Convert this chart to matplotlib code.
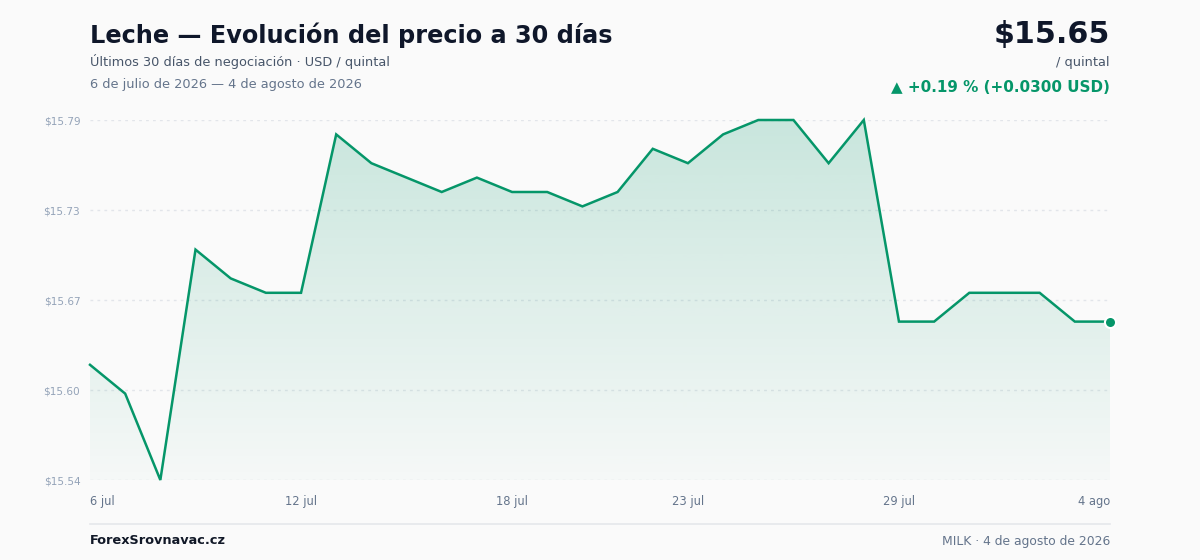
import numpy as np
import matplotlib
matplotlib.use("Agg")
import matplotlib.pyplot as plt
from matplotlib.colors import to_rgb

# === DATOS ===
dias = list(range(30))  # 6 jul .. 4 ago
precios = [15.62, 15.60, 15.54, 15.70, 15.68, 15.67, 15.67, 15.78, 15.76, 15.75,
           15.74, 15.75, 15.74, 15.74, 15.73, 15.74, 15.77, 15.76, 15.78, 15.79,
           15.79, 15.76, 15.79, 15.65, 15.65, 15.67, 15.67, 15.67, 15.65, 15.65]
xtick_pos = [0, 6, 12, 17, 23, 29]
xtick_lab = ["6 jul", "12 jul", "18 jul", "23 jul", "29 jul", "4 ago"]
ytick_val = [15.54, 15.6025, 15.665, 15.7275, 15.79]
ytick_lab = ["$15.54", "$15.60", "$15.67", "$15.73", "$15.79"]

VERDE = "#059669"
BG = "#fafafa"

fig = plt.figure(figsize=(12, 5.6), dpi=100, facecolor=BG)
ax = fig.add_axes([0.075, 1 - 480 / 560, 0.85, 360 / 560])
ax.set_facecolor(BG)

ymin, ymax = min(precios), max(precios)
ax.set_xlim(0, 29)
ax.set_ylim(ymin, ymax)

# rejilla punteada
for v in ytick_val:
    ax.axhline(v, color="#e2e5ea", lw=1, ls=(0, (2, 3)), zorder=0)

# relleno con degradado
poly = ax.fill_between(dias, precios, ymin, color="none", lw=0)
r, g, b = to_rgb(VERDE)
grad = np.zeros((256, 1, 4))
grad[:, 0, 0], grad[:, 0, 1], grad[:, 0, 2] = r, g, b
grad[:, 0, 3] = np.linspace(0.2, 0.02, 256)
im = ax.imshow(grad, aspect="auto", extent=[0, 29, ymin, ymax], origin="upper", zorder=1)
im.set_clip_path(poly.get_paths()[0], transform=ax.transData)

ax.plot(dias, precios, color=VERDE, lw=1.8, zorder=3, clip_on=False, solid_joinstyle="miter")
ax.plot(dias[-1], precios[-1], "o", ms=8, color=VERDE, mec="white", mew=1.5, zorder=4, clip_on=False)

for s in ax.spines.values():
    s.set_visible(False)
ax.set_yticks(ytick_val)
ax.set_yticklabels(ytick_lab)
ax.set_xticks(xtick_pos)
ax.set_xticklabels(xtick_lab)
ax.tick_params(axis="y", length=0, pad=7, labelsize=7.6, labelcolor="#94a3b8")
ax.tick_params(axis="x", length=0, pad=11, labelsize=8.3, labelcolor="#64748b")
xl = ax.get_xticklabels()
xl[0].set_ha("left")
xl[-1].set_ha("right")

# === TEXTOS ===
def fy(px):
    return 1 - px / 560

fig.text(0.075, fy(43), "Leche — Evolución del precio a 30 días", fontsize=17.3,
         fontweight="bold", color="#0f172a", va="baseline")
fig.text(0.075, fy(66), "Últimos 30 días de negociación · USD / quintal", fontsize=9.3,
         color="#475569", va="baseline")
fig.text(0.075, fy(88), "6 de julio de 2026 — 4 de agosto de 2026", fontsize=9.3,
         color="#64748b", va="baseline")

fig.text(0.925, fy(43), "$15.65", fontsize=21.7, fontweight="bold", color="#0f172a",
         va="baseline", ha="right")
fig.text(0.925, fy(66), "/ quintal", fontsize=9.3, color="#475569", va="baseline", ha="right")
fig.text(0.925, fy(92), "▲ +0.19 % (+0.0300 USD)", fontsize=10.9, fontweight="bold",
         color=VERDE, va="baseline", ha="right")

fig.add_artist(plt.Line2D([0.075, 0.925], [fy(524), fy(524)], color="#e5e7eb", lw=1.2))
fig.text(0.075, fy(541), "ForexSrovnavac.cz", fontsize=9.3, fontweight="bold",
         color="#111827", va="center")
fig.text(0.925, fy(541), "MILK · 4 de agosto de 2026", fontsize=8.9, color="#64748b",
         va="center", ha="right")

fig.savefig("out.png", dpi=100, facecolor=BG)
